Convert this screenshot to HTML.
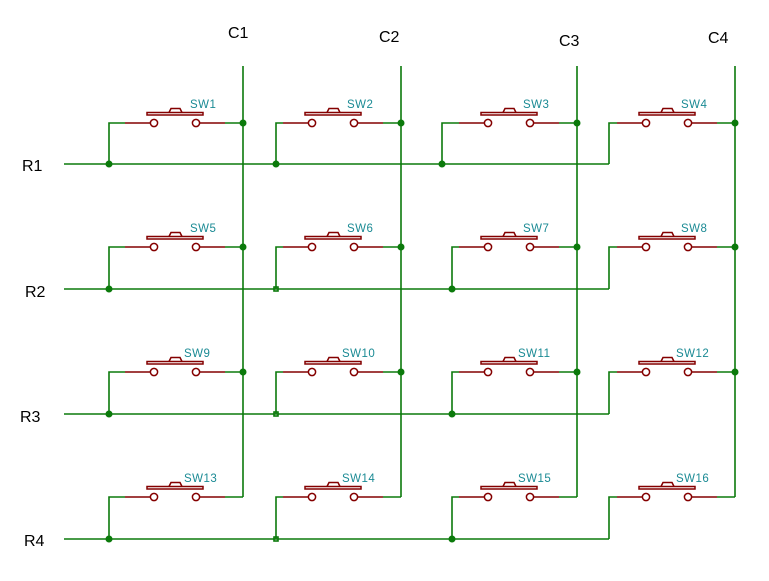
<!DOCTYPE html>
<html><head><meta charset="utf-8"><style>
html,body{margin:0;padding:0;background:#fff;width:769px;height:581px;overflow:hidden}
svg{display:block}
.g{stroke:#0b7a0b;stroke-width:1.6;fill:none}
.r{stroke:#840000;stroke-width:1.5;fill:none}
.lab{font-family:"Liberation Sans",sans-serif;font-size:16px;fill:#000}
.sw{font-family:"Liberation Sans",sans-serif;font-size:11.5px;fill:#1a8a94;letter-spacing:0.5px}
</style></head><body>
<svg width="769" height="581" viewBox="0 0 769 581" xmlns="http://www.w3.org/2000/svg">
<defs>
<g id="s">
<path class="r" d="M-118,0H-92.5M-43.5,0H-18"/>
<circle class="r" cx="-89" cy="0" r="3.6" fill="#fff"/>
<circle class="r" cx="-47" cy="0" r="3.6" fill="#fff"/>
<rect class="r" x="-96" y="-10.5" width="56" height="2.5" stroke-width="1.2"/>
<polyline class="r" points="-74,-10.5 -72,-14.5 -63,-14.5 -61,-10.5" stroke-width="1.2"/>
<path class="g" d="M-18,0H0"/>
</g>
</defs>
<!-- columns -->
<path class="g" d="M243,66V497M401,66V497M577,66V497M735,66V497"/>
<!-- rows -->
<path class="g" d="M64,164H609M64,289H609M64,414H609M64,539H609"/>
<!-- left leads -->
<path class="g" d="M109,164V123H125M276,164V123H283M442,164V123H459M609,164V123H617
M109,289V247H125M276,289V247H283M452,289V247H459M609,289V247H617
M109,414V372H125M276,414V372H283M452,414V372H459M609,414V372H617
M109,539V497H125M276,539V497H283M452,539V497H459M609,539V497H617"/>
<!-- switches -->
<use href="#s" x="243" y="123"/><use href="#s" x="401" y="123"/><use href="#s" x="577" y="123"/><use href="#s" x="735" y="123"/>
<use href="#s" x="243" y="247"/><use href="#s" x="401" y="247"/><use href="#s" x="577" y="247"/><use href="#s" x="735" y="247"/>
<use href="#s" x="243" y="372"/><use href="#s" x="401" y="372"/><use href="#s" x="577" y="372"/><use href="#s" x="735" y="372"/>
<use href="#s" x="243" y="497"/><use href="#s" x="401" y="497"/><use href="#s" x="577" y="497"/><use href="#s" x="735" y="497"/>
<!-- dots -->
<g fill="#0b7a0b">
<circle cx="243" cy="123" r="3.5"/><circle cx="401" cy="123" r="3.5"/><circle cx="577" cy="123" r="3.5"/><circle cx="735" cy="123" r="3.5"/>
<circle cx="243" cy="247" r="3.5"/><circle cx="401" cy="247" r="3.5"/><circle cx="577" cy="247" r="3.5"/><circle cx="735" cy="247" r="3.5"/>
<circle cx="243" cy="372" r="3.5"/><circle cx="401" cy="372" r="3.5"/><circle cx="577" cy="372" r="3.5"/><circle cx="735" cy="372" r="3.5"/>
<circle cx="109" cy="164" r="3.5"/><circle cx="276" cy="164" r="3.5"/><circle cx="442" cy="164" r="3.5"/>
<circle cx="109" cy="289" r="3.5"/><circle cx="452" cy="289" r="3.5"/>
<circle cx="109" cy="414" r="3.5"/><circle cx="452" cy="414" r="3.5"/>
<circle cx="109" cy="539" r="3.5"/><circle cx="452" cy="539" r="3.5"/>
</g>
<g class="g" stroke-width="1">
<rect x="274" y="287" width="4" height="4"/><rect x="274" y="412" width="4" height="4"/><rect x="274" y="537" width="4" height="4"/>
</g>
<!-- labels -->
<text class="lab" x="228" y="38">C1</text>
<text class="lab" x="379" y="42">C2</text>
<text class="lab" x="559" y="46">C3</text>
<text class="lab" x="708" y="43">C4</text>
<text class="lab" x="22" y="171">R1</text>
<text class="lab" x="25" y="297">R2</text>
<text class="lab" x="20" y="422">R3</text>
<text class="lab" x="24" y="546">R4</text>
<text class="sw" x="190" y="108">SW1</text><text class="sw" x="347" y="108">SW2</text><text class="sw" x="523" y="108">SW3</text><text class="sw" x="681" y="108">SW4</text>
<text class="sw" x="190" y="232">SW5</text><text class="sw" x="347" y="232">SW6</text><text class="sw" x="523" y="232">SW7</text><text class="sw" x="681" y="232">SW8</text>
<text class="sw" x="184" y="357">SW9</text><text class="sw" x="342" y="357">SW10</text><text class="sw" x="518" y="357">SW11</text><text class="sw" x="676" y="357">SW12</text>
<text class="sw" x="184" y="482">SW13</text><text class="sw" x="342" y="482">SW14</text><text class="sw" x="518" y="482">SW15</text><text class="sw" x="676" y="482">SW16</text>
</svg>
</body></html>
